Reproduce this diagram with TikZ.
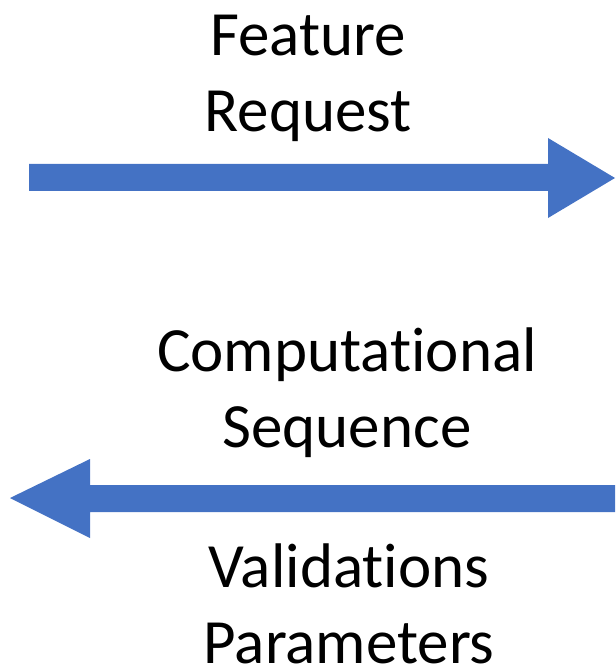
\documentclass[tikz,border=0pt]{standalone}
\usepackage{fontspec}
\setmainfont{Carlito}[Ligatures=NoCommon]
\definecolor{arrowblue}{HTML}{4472C4}
\begin{document}
\begin{tikzpicture}[x=1pt,y=-1pt,
  lbl/.style={inner sep=0pt,outer sep=0pt,align=center,font=\fontsize{63}{76}\selectfont,anchor=base},
  blockarrow/.style={fill=arrowblue,draw=none}]
\useasboundingbox (0,0) rectangle (615,668);
\node[lbl] (fr) at (308,132) {Feature\\Request};
\node[lbl] (cs) at (347,447) {Computational\\Sequence};
\node[lbl] (vp) at (349,663) {Validations\\Parameters};
\fill[blockarrow] (29,164) -- (548,164) -- (548,138) -- (615,178) -- (548,218) -- (548,191) -- (29,191) -- cycle;
\fill[blockarrow] (615,485) -- (90,485) -- (90,459) -- (10,498) -- (90,538) -- (90,512) -- (615,512) -- cycle;
\end{tikzpicture}
\end{document}
